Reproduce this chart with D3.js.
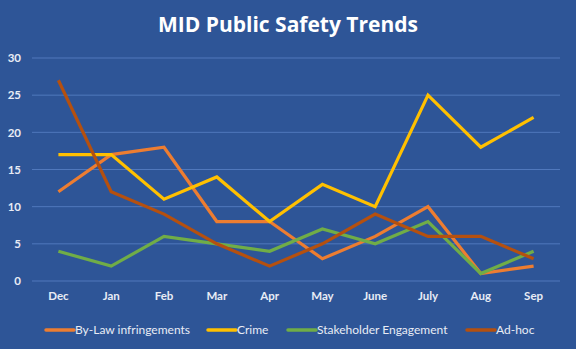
<!DOCTYPE html>
<html><head><meta charset="utf-8">
<script src="https://cdn.jsdelivr.net/npm/d3@7"></script>
<style>body{margin:0;background:#2E5597;}svg{display:block;}</style>
</head><body>
<svg id="chart" width="576" height="349"></svg>
<script>
const months = ["Dec","Jan","Feb","Mar","Apr","May","June","July","Aug","Sep"];
const bylaw = [12,17,18,8,8,3,6,10,1,2];
const crime = [17,17,11,14,8,13,10,25,18,22];
const stakeholder = [4,2,6,5,4,7,5,8,1,4];
const adhoc = [27,12,9,5,2,5,9,6,6,3];
const yTicks = [0,5,10,15,20,25,30];
const seriesNames = ["By-Law infringements","Crime","Stakeholder Engagement","Ad-hoc"];
const seriesColors = ["#ED7D31","#FFC000","#70AD47","#B5500F"];
const seriesData = [bylaw, crime, stakeholder, adhoc];

const svg = d3.select("#chart");
const font = "Lato, 'Open Sans', sans-serif";
svg.append("rect").attr("width",576).attr("height",349).attr("fill","#2E5597");

svg.append("text").attr("x",288).attr("y",32).attr("text-anchor","middle")
  .attr("fill","#fff").attr("font-family","'Open Sans', Lato, sans-serif").attr("font-weight","bold")
  .attr("font-size",21).text("MID Public Safety Trends");

const x = d3.scaleBand().domain(months).range([32,560]);
const y = d3.scaleLinear().domain([0,30]).range([281,58]);

svg.append("g").selectAll("line").data(yTicks).join("line")
  .attr("x1",32).attr("x2",560).attr("y1",d=>y(d)).attr("y2",d=>y(d))
  .attr("stroke","#5078BC").attr("stroke-width",1);

const yAxis = svg.append("g").attr("transform","translate(21,0)")
  .call(d3.axisLeft(y).tickValues(yTicks).tickSize(0).tickPadding(0));
yAxis.select(".domain").remove();
yAxis.selectAll("text").attr("fill","#E8ECF5").attr("font-family",font).attr("font-size",11.5).attr("font-weight","bold");

const xAxis = svg.append("g").attr("transform","translate(0,289)")
  .call(d3.axisBottom(x).tickSize(0).tickPadding(3));
xAxis.select(".domain").remove();
xAxis.selectAll("text").attr("fill","#E8ECF5").attr("font-family",font).attr("font-size",11.5).attr("font-weight","bold");

const line = d3.line().x((d,i)=>x(months[i])+x.bandwidth()/2).y(d=>y(d));
seriesData.forEach((s,k)=>{
  svg.append("path").datum(s).attr("d",line).attr("fill","none")
    .attr("stroke",seriesColors[k]).attr("stroke-width",3.2)
    .attr("stroke-linejoin","miter").attr("stroke-linecap","butt");
});

const legendX = [46,208,288,467];
const lg = svg.append("g");
seriesNames.forEach((n,k)=>{
  lg.append("line").attr("x1",legendX[k]).attr("x2",legendX[k]+28)
    .attr("y1",330).attr("y2",330).attr("stroke",seriesColors[k]).attr("stroke-width",3.5).attr("stroke-linecap","round");
  lg.append("text").attr("x",legendX[k]+29).attr("y",334)
    .attr("fill","#E8ECF5").attr("font-family",font).attr("font-size",12).attr("font-weight","normal").text(n);
});
</script>
</body></html>
